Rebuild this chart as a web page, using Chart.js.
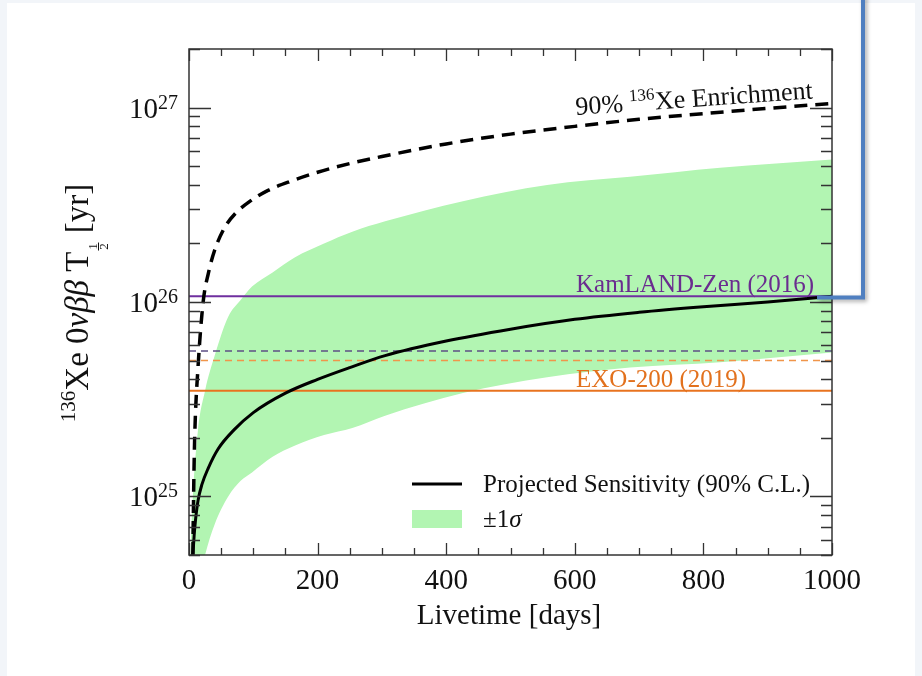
<!DOCTYPE html>
<html><head><meta charset="utf-8">
<script src="https://cdn.jsdelivr.net/npm/chart.js@4.4.1/dist/chart.umd.min.js"></script>
<style>html,body{margin:0;padding:0;background:#fff;overflow:hidden}canvas{display:block}</style>
</head><body>
<canvas id="c" width="922" height="676"></canvas>
<script>
// ---- data ----
const sensX = [6, 8, 10, 14, 20, 30, 45, 70, 100, 150, 200, 250, 305, 400, 500, 600, 700, 800, 900, 1000];
const sensY = [5e24, 6.3e24, 7.5e24, 9.5e24, 1.15e25, 1.4e25, 1.75e25, 2.2e25, 2.7e25, 3.4e25, 4.0e25, 4.6e25, 5.3e25, 6.3e25, 7.25e25, 8.15e25, 8.85e25, 9.45e25, 1.0e26, 1.07e26];

const enrX = [6, 7.5, 9, 14, 22, 30, 40, 55, 72, 95, 123, 160, 200, 250, 300, 400, 500, 600, 700, 800, 900, 1000];
const enrY = [5e24, 1.2e25, 2.1e25, 4.6e25, 1.0e26, 1.4e26, 1.85e26, 2.4e26, 2.85e26, 3.3e26, 3.75e26, 4.2e26, 4.65e26, 5.15e26, 5.6e26, 6.5e26, 7.3e26, 8.0e26, 8.7e26, 9.3e26, 9.9e26, 1.05e27];

const bandX = [2, 6, 14, 25, 40, 61, 80, 98, 130, 165, 210, 254, 305, 426, 557, 686, 826, 1000];
const bandUpper = [5e24, 1e25, 2.2e25, 3.5e25, 5.3e25, 8.4e25, 1.02e26, 1.2e26, 1.42e26, 1.7e26, 2.0e26, 2.3e26, 2.6e26, 3.3e26, 4.0e26, 4.4e26, 4.9e26, 5.4e26];
const bandLower = [1.5e24, 2.2e24, 3.4e24, 5e24, 7.2e24, 1.0e25, 1.2e25, 1.33e25, 1.6e25, 1.83e25, 2.07e25, 2.25e25, 2.6e25, 3.4e25, 4.1e25, 4.6e25, 4.9e25, 5.5e25];

const kamlandLimit = 1.07e26;
const kamlandSens = 5.6e25;
const exoSens = 5.0e25;
const exoLimit = 3.5e25;

const xRange = [0, 1000];
const yRange = [5e24, 2e27];
const xTickLabels = [0, 200, 400, 600, 800, 1000];
const xMinorStep = 50;
const yTickExps = [25, 26, 27];

const zip = (xs, ys) => xs.map((x, i) => ({x, y: ys[i]}));
const hline = (v) => [{x: xRange[0], y: v}, {x: xRange[1], y: v}];

const SERIF = '"Liberation Serif", "Times New Roman", serif';

const deco = {
  id: 'deco',
  beforeDraw(chart) {
    const ctx = chart.ctx;
    ctx.save();
    ctx.fillStyle = '#f2f5f9';
    ctx.fillRect(0, 0, 922, 676);
    ctx.fillStyle = '#ffffff';
    ctx.fillRect(7, 3, 908, 673);
    ctx.restore();
  },
  afterDraw(chart) {
    const ctx = chart.ctx;
    const xs = chart.scales.x, ys = chart.scales.y;
    const a = chart.chartArea;
    ctx.save();
    // frame
    ctx.strokeStyle = '#333';
    ctx.lineWidth = 1.5;
    ctx.strokeRect(a.left, a.top, a.right - a.left, a.bottom - a.top);
    // x ticks
    ctx.lineWidth = 1.3;
    for (let v = xRange[0]; v <= xRange[1]; v += xMinorStep) {
      const px = Math.round(xs.getPixelForValue(v)) + 0.5;
      const major = xTickLabels.includes(v);
      const len = major ? 12 : 7;
      ctx.beginPath();
      ctx.moveTo(px, a.bottom); ctx.lineTo(px, a.bottom - len);
      ctx.moveTo(px, a.top); ctx.lineTo(px, a.top + len);
      ctx.stroke();
    }
    // y ticks
    for (let e = 24; e <= 27; e++) {
      for (let m = 1; m <= 9; m++) {
        const v = m * Math.pow(10, e);
        if (v < yRange[0] * 0.999 || v > yRange[1] * 1.001) continue;
        const py = Math.round(ys.getPixelForValue(v)) + 0.5;
        const len = m === 1 ? 22 : 11;
        ctx.beginPath();
        ctx.moveTo(a.left, py); ctx.lineTo(a.left + len, py);
        ctx.moveTo(a.right, py); ctx.lineTo(a.right - len, py);
        ctx.stroke();
      }
    }
    // x tick labels
    ctx.fillStyle = '#111';
    ctx.font = '29px ' + SERIF;
    ctx.textAlign = 'center';
    ctx.textBaseline = 'alphabetic';
    xTickLabels.forEach(v => {
      ctx.fillText(String(v), xs.getPixelForValue(v), 589);
    });
    // y tick labels
    yTickExps.forEach(e => {
      const py = ys.getPixelForValue(Math.pow(10, e));
      ctx.textAlign = 'right';
      ctx.font = '20px ' + SERIF;
      const sw = ctx.measureText(String(e)).width;
      ctx.fillText(String(e), 178, py + 1);
      ctx.font = '29px ' + SERIF;
      ctx.fillText('10', 178 - sw, py + 10);
    });
    // x title
    ctx.textAlign = 'center';
    ctx.font = '29px ' + SERIF;
    ctx.fillText('Livetime [days]', 509, 624);
    // y title
    drawYTitle(ctx);
    // annotations
    ctx.textAlign = 'left';
    ctx.font = '25px ' + SERIF;
    ctx.fillStyle = '#6a2c8f';
    ctx.fillText('KamLAND-Zen (2016)', 576, 292);
    ctx.fillStyle = '#e2711d';
    ctx.fillText('EXO-200 (2019)', 576, 387);
    // enrichment label
    ctx.save();
    ctx.translate(576, 115);
    ctx.rotate(-4 * Math.PI / 180);
    ctx.fillStyle = '#111';
    ctx.font = '26px ' + SERIF;
    let x = 0;
    ctx.fillText('90% ', x, 0); x += ctx.measureText('90% ').width;
    ctx.font = '17px ' + SERIF;
    ctx.fillText('136', x, -10); x += ctx.measureText('136').width;
    ctx.font = '26px ' + SERIF;
    ctx.fillText('Xe Enrichment', x, 0);
    ctx.restore();
    // legend
    ctx.strokeStyle = '#000';
    ctx.lineWidth = 3;
    ctx.beginPath(); ctx.moveTo(412, 484); ctx.lineTo(462, 484); ctx.stroke();
    ctx.fillStyle = 'rgb(178,245,178)';
    ctx.fillRect(412, 510, 50, 18);
    ctx.fillStyle = '#111';
    ctx.font = '25px ' + SERIF;
    ctx.fillText('Projected Sensitivity (90% C.L.)', 483, 492);
    ctx.fillText('\u00B11', 483, 527);
    const w1 = ctx.measureText('\u00B11').width;
    ctx.font = 'italic 25px ' + SERIF;
    ctx.fillText('\u03C3', 483 + w1, 527);
    // blue overlay line (screenshot annotation)
    ctx.save();
    ctx.shadowColor = 'rgba(0,0,0,0.35)';
    ctx.shadowBlur = 4;
    ctx.shadowOffsetX = 2;
    ctx.shadowOffsetY = 2;
    ctx.strokeStyle = '#4f7fc0';
    ctx.lineWidth = 4;
    ctx.lineJoin = 'miter';
    ctx.beginPath();
    ctx.moveTo(863, -5); ctx.lineTo(863, 297.5); ctx.lineTo(817, 297.5);
    ctx.stroke();
    ctx.restore();
    ctx.restore();
  }
};

function drawYTitle(ctx) {
  ctx.save();
  ctx.translate(88, 303);
  ctx.rotate(-Math.PI / 2);
  ctx.fillStyle = '#111';
  ctx.textAlign = 'left';
  ctx.textBaseline = 'alphabetic';
  const big = '33px ' + SERIF, ital = 'italic 33px ' + SERIF, sup = '21px ' + SERIF, fr = '13px ' + SERIF;
  const parts = [
    {t: '136', f: sup, dy: -13},
    {t: 'Xe 0', f: big, dy: 0},
    {t: '\u03BD\u03B2\u03B2', f: ital, dy: 0},
    {t: ' T', f: big, dy: 0},
    {frac: true, w: 10},
    {t: ' [yr]', f: big, dy: 0}
  ];
  let total = 0;
  parts.forEach(p => {
    if (p.frac) { p.width = p.w; } else { ctx.font = p.f; p.width = ctx.measureText(p.t).width; }
    total += p.width;
  });
  let x = -total / 2;
  parts.forEach(p => {
    if (p.frac) {
      ctx.font = fr;
      ctx.textAlign = 'center';
      ctx.fillText('1', x + p.w / 2, 9);
      ctx.fillText('2', x + p.w / 2, 20);
      ctx.lineWidth = 1;
      ctx.strokeStyle = '#111';
      ctx.beginPath(); ctx.moveTo(x + 1, 10.5); ctx.lineTo(x + p.w - 1, 10.5); ctx.stroke();
      ctx.textAlign = 'left';
    } else {
      ctx.font = p.f;
      ctx.fillText(p.t, x, p.dy);
    }
    x += p.width;
  });
  ctx.restore();
}

new Chart(document.getElementById('c'), {
  type: 'line',
  data: {
    datasets: [
      {label: 'lower', data: zip(bandX, bandLower), borderWidth: 0, pointRadius: 0, fill: false, cubicInterpolationMode: 'monotone', order: 10, borderColor: 'rgba(0,0,0,0)'},
      {label: '\u00B11\u03C3', data: zip(bandX, bandUpper), borderWidth: 0, pointRadius: 0, fill: '-1', backgroundColor: 'rgb(178,245,178)', cubicInterpolationMode: 'monotone', order: 9, borderColor: 'rgba(0,0,0,0)'},
      {label: 'KamLAND-Zen (2016)', data: hline(kamlandLimit), borderColor: '#6f2f9f', borderWidth: 2, pointRadius: 0, order: 5},
      {label: 'KamLAND-Zen sensitivity', data: hline(kamlandSens), borderColor: '#5e4f85', borderWidth: 1.5, borderDash: [7, 5], pointRadius: 0, order: 5},
      {label: 'EXO-200 sensitivity', data: hline(exoSens), borderColor: '#f0954a', borderWidth: 1.5, borderDash: [7, 5], pointRadius: 0, order: 5},
      {label: 'EXO-200 (2019)', data: hline(exoLimit), borderColor: '#e8731f', borderWidth: 2, pointRadius: 0, order: 5},
      {label: '90% 136Xe Enrichment', data: zip(enrX, enrY), borderColor: '#000', borderWidth: 3.5, borderDash: [13, 8], pointRadius: 0, cubicInterpolationMode: 'monotone', order: 2},
      {label: 'Projected Sensitivity (90% C.L.)', data: zip(sensX, sensY), borderColor: '#000', borderWidth: 3, pointRadius: 0, cubicInterpolationMode: 'monotone', order: 1}
    ]
  },
  options: {
    responsive: false,
    animation: false,
    devicePixelRatio: 1,
    layout: {padding: {left: 189, right: 90, top: 49, bottom: 121}},
    plugins: {legend: {display: false}, tooltip: {enabled: false}},
    scales: {
      x: {type: 'linear', min: xRange[0], max: xRange[1], display: false},
      y: {type: 'logarithmic', min: yRange[0], max: yRange[1], display: false}
    }
  },
  plugins: [deco]
});
</script>
</body></html>
